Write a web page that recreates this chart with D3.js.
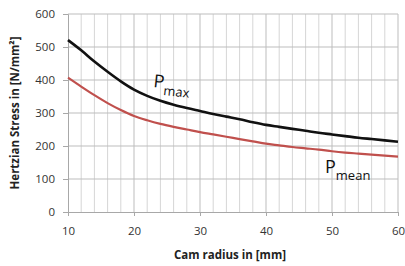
<!DOCTYPE html>
<html>
<head>
<meta charset="utf-8">
<script src="https://cdn.jsdelivr.net/npm/d3@7"></script>
<style>
  body { margin: 0; background: #fff; }
  text { font-family: "Open Sans", "Liberation Sans", sans-serif; }
</style>
</head>
<body>
<div id="vis"></div>
<script>
// data (cam radius in mm, stress in N/mm²)
var radius = [10, 12, 14, 16, 18, 20, 22, 24, 26, 28, 30, 32, 34, 36, 38, 40, 42, 44, 46, 48, 50, 52, 54, 56, 58, 60];
var pMax = [521, 490, 456, 425, 396, 371, 352, 337, 325, 315, 306, 297, 289, 281, 272, 264, 258, 252, 246, 240, 235, 230, 225, 221, 217, 213];
var pMean = [407, 380, 354, 330, 309, 291, 278, 267, 258, 250, 242, 235, 228, 221, 214, 207, 202, 197, 193, 189, 184, 180, 177, 174, 171, 168];
var yTicks = [0, 100, 200, 300, 400, 500, 600];
var xTicks = [10, 20, 30, 40, 50, 60];

var width = 405;
var height = 266;

var svg = d3.select("#vis")
  .append("svg")
  .attr("width", width)
  .attr("height", height);

var x = d3.scaleLinear().domain([10, 60]).range([68, 398]);
var y = d3.scaleLinear().domain([0, 600]).range([212, 14]);

// vertical grid every 2 mm
svg.append("g")
  .selectAll("line")
  .data(d3.range(12, 61, 2))
  .enter().append("line")
  .attr("x1", function(d) { return x(d); })
  .attr("x2", function(d) { return x(d); })
  .attr("y1", y(0))
  .attr("y2", y(600))
  .attr("stroke", function(d) { return d % 10 === 0 ? "#bdbdbd" : "#d6d6d6"; })
  .attr("stroke-width", 1);

// horizontal grid
svg.append("g")
  .selectAll("line")
  .data(yTicks.slice(1))
  .enter().append("line")
  .attr("x1", x(10))
  .attr("x2", x(60))
  .attr("y1", function(d) { return y(d); })
  .attr("y2", function(d) { return y(d); })
  .attr("stroke", "#bdbdbd")
  .attr("stroke-width", 1);

// axes
var xAxis = svg.append("g")
  .attr("transform", "translate(0," + y(0) + ")")
  .call(d3.axisBottom(x).tickValues(xTicks).tickSize(4).tickPadding(11));

var yAxis = svg.append("g")
  .attr("transform", "translate(" + x(10) + ",0)")
  .call(d3.axisLeft(y).tickValues(yTicks).tickSize(5).tickPadding(8));

[xAxis, yAxis].forEach(function(a) {
  a.select(".domain").attr("stroke", "#a8a8a8");
  a.selectAll(".tick line").attr("stroke", "#a8a8a8");
  a.selectAll(".tick text")
    .attr("fill", "#333")
    .style("font-size", "11.5px")
    .style("font-family", "'Open Sans', sans-serif");
});

// curves
var line = d3.line()
  .x(function(d) { return x(d[0]); })
  .y(function(d) { return y(d[1]); })
  .curve(d3.curveMonotoneX);

svg.append("path")
  .datum(d3.zip(radius, pMean))
  .attr("fill", "none")
  .attr("stroke", "#c0504d")
  .attr("stroke-width", 2.2)
  .attr("d", line);

svg.append("path")
  .datum(d3.zip(radius, pMax))
  .attr("fill", "none")
  .attr("stroke", "#111")
  .attr("stroke-width", 2.6)
  .attr("d", line);

// curve labels
var lab1 = svg.append("text")
  .attr("transform", "translate(153,87) rotate(6)")
  .attr("fill", "#111");
lab1.append("tspan").style("font-size", "18px").text("P");
lab1.append("tspan").attr("dy", 7).style("font-size", "13px").text("max");

var lab2 = svg.append("text")
  .attr("transform", "translate(325,173)")
  .attr("fill", "#111");
lab2.append("tspan").style("font-size", "18px").text("P");
lab2.append("tspan").attr("dy", 7).style("font-size", "13px").text("mean");

// axis titles
svg.append("text")
  .attr("x", 230)
  .attr("y", 259)
  .attr("text-anchor", "middle")
  .style("font-size", "11.5px")
  .style("font-weight", "bold")
  .attr("fill", "#222")
  .text("Cam radius in [mm]");

svg.append("text")
  .attr("transform", "translate(19,113) rotate(-90)")
  .attr("text-anchor", "middle")
  .style("font-size", "11.5px")
  .style("font-weight", "bold")
  .attr("fill", "#222")
  .text("Hertzian Stress in [N/mm²]");
</script>
</body>
</html>
